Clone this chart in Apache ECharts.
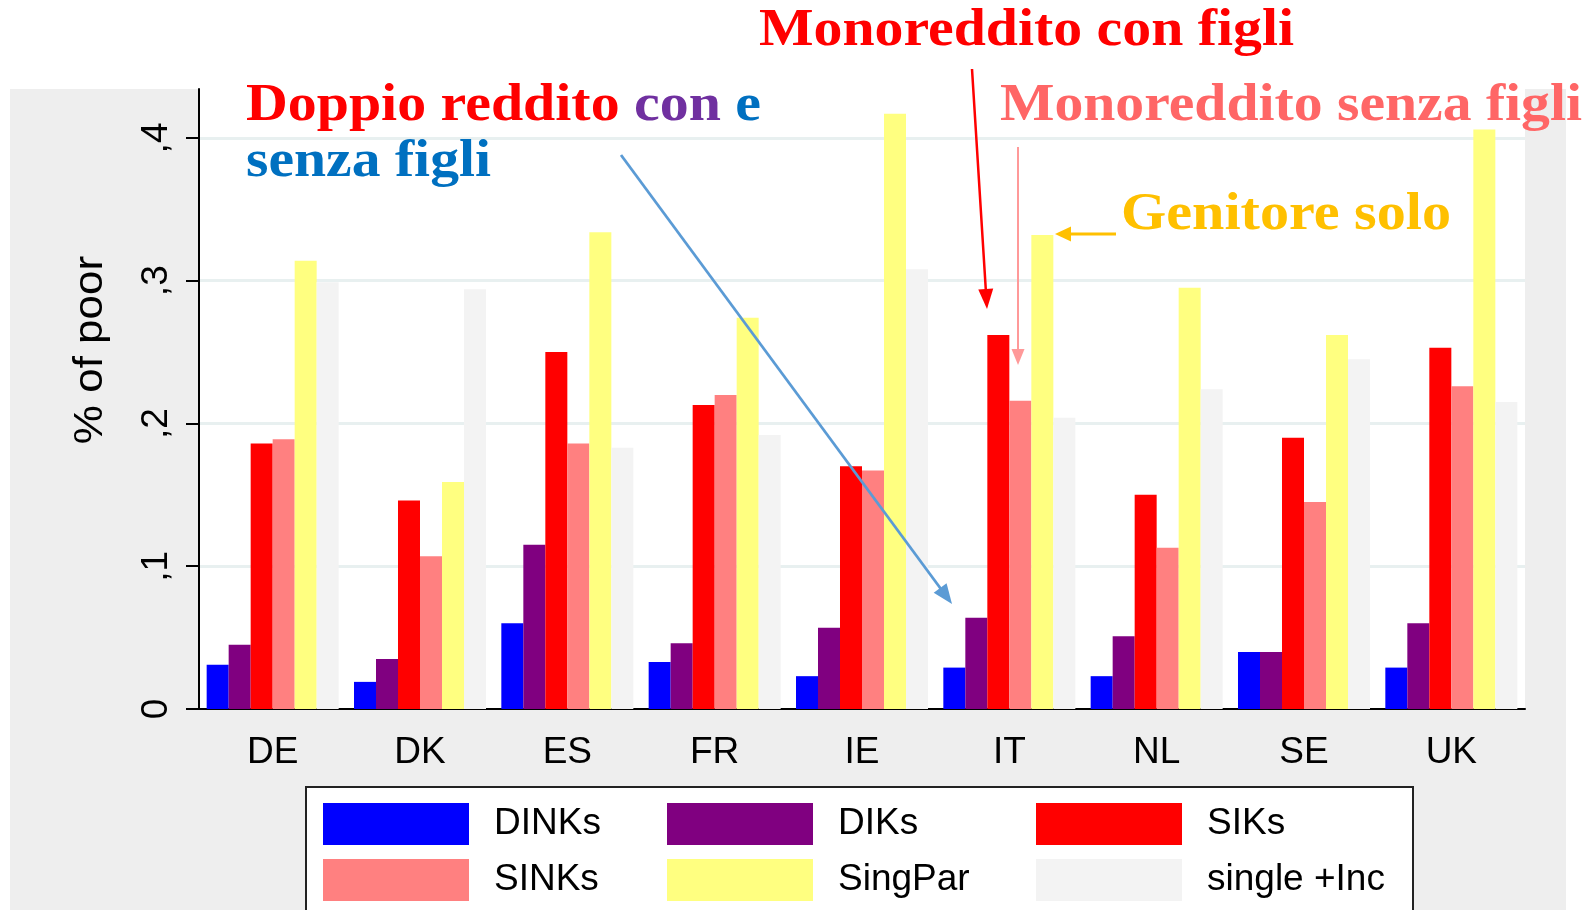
<!DOCTYPE html>
<html><head><meta charset="utf-8">
<script src="https://cdn.jsdelivr.net/npm/echarts@6/dist/echarts.min.js"></script>
<style>
html,body{margin:0;padding:0;background:#fff;}
#wrap{position:relative;width:1591px;height:910px;overflow:hidden;background:#fff;}
#bg{position:absolute;left:10px;top:89px;width:1556px;height:821px;background:#eeeeee;}
#chart{position:absolute;left:0;top:0;width:1591px;height:910px;}
</style></head><body>
<div id="wrap"><div id="bg"></div><div id="chart"></div></div>
<script>
// ---- data ----
const categories = ['DE','DK','ES','FR','IE','IT','NL','SE','UK'];
const DINKs     = [0.031, 0.019, 0.060, 0.033, 0.023, 0.029, 0.023, 0.040, 0.029];
const DIKs      = [0.045, 0.035, 0.115, 0.046, 0.057, 0.064, 0.051, 0.040, 0.060];
const SIKs      = [0.186, 0.146, 0.250, 0.213, 0.170, 0.262, 0.150, 0.190, 0.253];
const SINKs     = [0.189, 0.107, 0.186, 0.220, 0.167, 0.216, 0.113, 0.145, 0.226];
const SingPar   = [0.314, 0.159, 0.334, 0.274, 0.417, 0.332, 0.295, 0.262, 0.406];
const singleInc = [0.299, 0.294, 0.183, 0.192, 0.308, 0.204, 0.224, 0.245, 0.215];
const seriesNames = ['DINKs','DIKs','SIKs','SINKs','SingPar','single +Inc'];
const yTickValues = [0, 0.1, 0.2, 0.3, 0.4];
const yTickLabels = ['0', ',1', ',2', ',3', ',4'];
const yAxisTitle = '% of poor';

// ---- styles ----
const seriesData = [DINKs, DIKs, SIKs, SINKs, SingPar, singleInc];
const seriesColors = ['#0000ff','#800080','#ff0000','#ff8080','#ffff80','#f3f3f3'];
const SANS = '"Liberation Sans", Arial, sans-serif';
const SERIF = '"Liberation Serif", "Times New Roman", serif';
const ANN_SIZE = 52;

const chart = echarts.init(document.getElementById('chart'), null, {renderer:'canvas'});

const mctx = document.createElement('canvas').getContext('2d');
function textWidth(t, font){ mctx.font = font; return mctx.measureText(t).width; }
const annFont = 'bold ' + ANN_SIZE + 'px ' + SERIF;

function annotation(text, left, baseline, target, fill, rich){
  const w = textWidth(text, annFont);
  const el = {
    type:'text', x:left, y: baseline - ANN_SIZE*0.305, scaleX: target / w, z: 60,
    style:{ text: rich ? rich.text : text, font: annFont, fill: fill, align:'left', verticalAlign:'middle' }
  };
  if (rich) {
    el.style.rich = rich.rich;
  }
  return el;
}
function arrow(x1,y1,x2,y2,color,lw,headLen,headW){
  const dx=x2-x1, dy=y2-y1, L=Math.hypot(dx,dy), ux=dx/L, uy=dy/L;
  const bx=x2-ux*headLen, by=y2-uy*headLen;
  const px=-uy, py=ux;
  return [
    {type:'line', z:55, shape:{x1:x1,y1:y1,x2:bx+ux*2,y2:by+uy*2}, style:{stroke:color,lineWidth:lw}},
    {type:'polygon', z:56, shape:{points:[[x2,y2],[bx+px*headW/2,by+py*headW/2],[bx-px*headW/2,by-py*headW/2]]}, style:{fill:color}}
  ];
}

function richPart(fill){
  return {fill: fill, font: annFont, fontFamily: SERIF, fontWeight:'bold', fontSize: ANN_SIZE};
}
const graphics = [
  // legend box
  {type:'rect', z:1, shape:{x:306, y:787, width:1107, height:160}, style:{fill:'#fff', stroke:'#222', lineWidth:2}},
  // y axis title
  {type:'text', z:10, x:91, y:350, rotation:Math.PI/2, scaleX:1.1,
   style:{text:yAxisTitle, font:'40px '+SANS, fill:'#000', align:'center', verticalAlign:'middle'}},
  annotation('Monoreddito con figli', 759, 47, 535, '#ff0000'),
  annotation('Doppio reddito con e', 246, 122, 515, '#ff0000', {
    text:'{r|Doppio reddito }{p|con }{b|e}',
    rich:{ r:richPart('#ff0000'), p:richPart('#7030a0'), b:richPart('#0070c0') }
  }),
  annotation('senza figli', 246, 178, 245, '#0070c0'),
  annotation('Monoreddito senza figli', 1000, 122, 582, '#ff6666'),
  annotation('Genitore solo', 1121, 231, 330, '#ffc000'),
  ...arrow(621,155,952,604,'#5b9bd5',2.8,20,16),
  ...arrow(972,69,987,309,'#ff0000',2.5,20,15),
  ...arrow(1018,147,1018,365,'#ff9999',2,16,13),
  ...arrow(1116,234,1055,234,'#ffc000',3,16,15)
];

const legendCommon = {
  orient:'vertical', itemWidth:146, itemHeight:42, itemGap:14, icon:'rect',
  selectedMode:false, padding:0, z:5,
  itemStyle:{borderWidth:0},
  textStyle:{fontSize:37, fontFamily:SANS, color:'#000', padding:[14,0,0,20]}
};

const option = {
  animation:false,
  backgroundColor:'transparent',
  grid:{left:199, right:66, top:89, bottom:201, show:true, backgroundColor:'#fff', borderWidth:0, containLabel:false},
  legend:[
    Object.assign({left:323, top:803, data:[seriesNames[0], seriesNames[3]]}, legendCommon),
    Object.assign({left:667, top:803, data:[seriesNames[1], seriesNames[4]]}, legendCommon),
    Object.assign({left:1036, top:803, data:[seriesNames[2], seriesNames[5]]}, legendCommon)
  ],
  xAxis:{
    type:'category', data:categories, boundaryGap:true,
    axisLine:{show:true, lineStyle:{color:'#000', width:2}},
    axisTick:{show:false},
    axisLabel:{fontSize:37, fontFamily:SANS, color:'#000', margin:25},
    splitLine:{show:false}
  },
  yAxis:{
    type:'value', min:0, max:0.4343, interval:0.1,
    axisLine:{show:true, lineStyle:{color:'#000', width:2}},
    axisTick:{show:true, length:13, lineStyle:{color:'#000', width:2}, customValues:yTickValues},
    axisLabel:{
      rotate:90, fontSize:37, fontFamily:SANS, color:'#000', margin:24,
      customValues:yTickValues,
      formatter:function(v){
        for (let i=0;i<yTickValues.length;i++){ if (Math.abs(v-yTickValues[i])<1e-6) return yTickLabels[i]; }
        return '';
      }
    },
    splitLine:{show:true, showMinLine:false, lineStyle:{color:'#e8f0f0', width:3}}
  },
  series: seriesNames.map(function(n,i){
    return {
      name:n, type:'bar', data:seriesData[i],
      barGap:'0%', barCategoryGap:'10.4%',
      itemStyle:{color:seriesColors[i]},
      emphasis:{disabled:true}
    };
  }),
  graphic: graphics
};
chart.setOption(option);
</script>
</body></html>
